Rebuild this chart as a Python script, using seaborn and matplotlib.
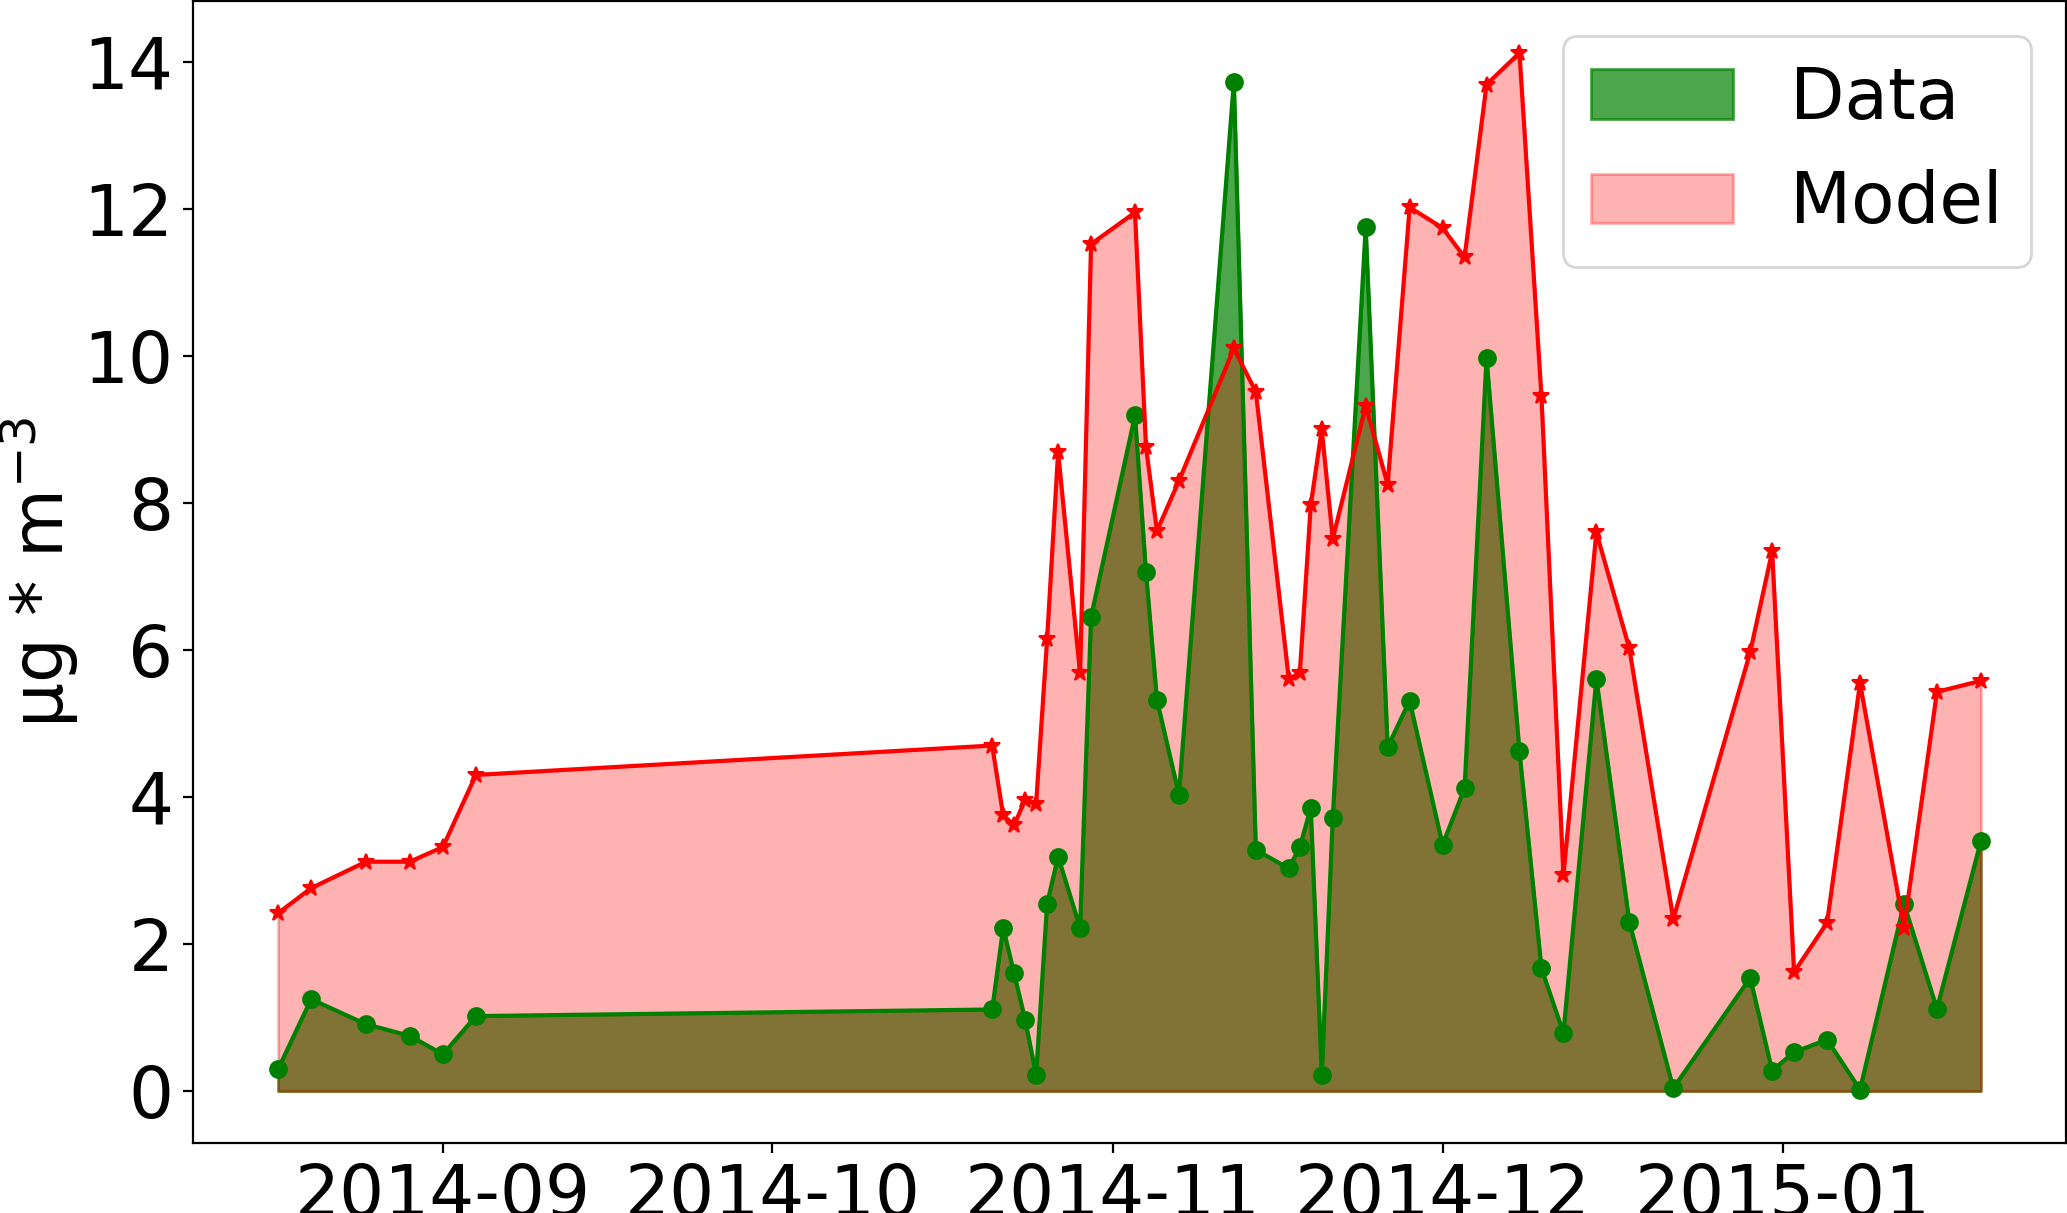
import matplotlib
matplotlib.use("Agg")
import matplotlib.pyplot as plt
import matplotlib.dates as mdates
from matplotlib.ticker import MultipleLocator
import seaborn as sns
import pandas as pd

dates = ["2014-08-17", "2014-08-20", "2014-08-25", "2014-08-29", "2014-09-01", "2014-09-04",
         "2014-10-21", "2014-10-22", "2014-10-23", "2014-10-24", "2014-10-25", "2014-10-26",
         "2014-10-27", "2014-10-29", "2014-10-30",
         "2014-11-03", "2014-11-04", "2014-11-05", "2014-11-07", "2014-11-12", "2014-11-14",
         "2014-11-17", "2014-11-18", "2014-11-19", "2014-11-20", "2014-11-21", "2014-11-24",
         "2014-11-26", "2014-11-28",
         "2014-12-01", "2014-12-03", "2014-12-05", "2014-12-08", "2014-12-10", "2014-12-12",
         "2014-12-15", "2014-12-18", "2014-12-22", "2014-12-29", "2014-12-31",
         "2015-01-02", "2015-01-05", "2015-01-08", "2015-01-12", "2015-01-15", "2015-01-19"]

data_vals = [0.30, 1.25, 0.91, 0.75, 0.50, 1.02,
             1.11, 2.22, 1.60, 0.97, 0.22, 2.55, 3.19, 2.22, 6.45,
             9.19, 7.06, 5.32, 4.03, 13.73, 3.28, 3.03, 3.32, 3.85, 0.22, 3.71, 11.75, 4.68, 5.31,
             3.35, 4.12, 9.97, 4.62, 1.67, 0.79, 5.61, 2.30, 0.04, 1.54, 0.28,
             0.53, 0.70, 0.02, 2.55, 1.12, 3.40]

model_vals = [2.42, 2.76, 3.12, 3.12, 3.32, 4.30,
              4.70, 3.75, 3.62, 3.96, 3.91, 6.15, 8.69, 5.68, 11.52,
              11.95, 8.76, 7.62, 8.30, 10.10, 9.51, 5.61, 5.68, 7.97, 9.00, 7.51, 9.32, 8.25, 12.02,
              11.74, 11.34, 13.69, 14.12, 9.45, 2.94, 7.60, 6.02, 2.34, 5.97, 7.34,
              1.62, 2.29, 5.55, 2.22, 5.43, 5.58]

ylabel = "μg * m$^{-3}$"
legend_labels = ["Data", "Model"]

df = pd.DataFrame({"date": pd.to_datetime(dates), "Data": data_vals, "Model": model_vals})

FS = 25.5
plt.rcParams["font.family"] = ["DejaVu Sans"]
fig = plt.figure(figsize=(2067 / 200, 1213 / 200), dpi=200)
ax = fig.add_axes([193 / 2067, 70 / 1213, 1873 / 2067, 1142 / 1213])

ax.fill_between(df["date"], df["Data"], color="green", alpha=0.7, label=legend_labels[0])
ax.fill_between(df["date"], df["Model"], color="red", alpha=0.3, label=legend_labels[1])
sns.lineplot(data=df, x="date", y="Data", ax=ax, color="green", marker="o",
             markeredgecolor="green", linewidth=1.5, markersize=6, legend=False)
sns.lineplot(data=df, x="date", y="Model", ax=ax, color="red", marker="*",
             markeredgecolor="red", linewidth=1.5, markersize=6, legend=False)

ax.set_xlabel("")
ax.set_ylabel(ylabel, fontsize=FS, labelpad=1)
ax.tick_params(labelsize=FS)
ax.yaxis.set_major_locator(MultipleLocator(2))
ax.xaxis.set_major_locator(mdates.MonthLocator())
ax.xaxis.set_major_formatter(mdates.DateFormatter("%Y-%m"))
ax.legend(loc="upper right", fontsize=FS)

fig.savefig("out.png", dpi=200)
